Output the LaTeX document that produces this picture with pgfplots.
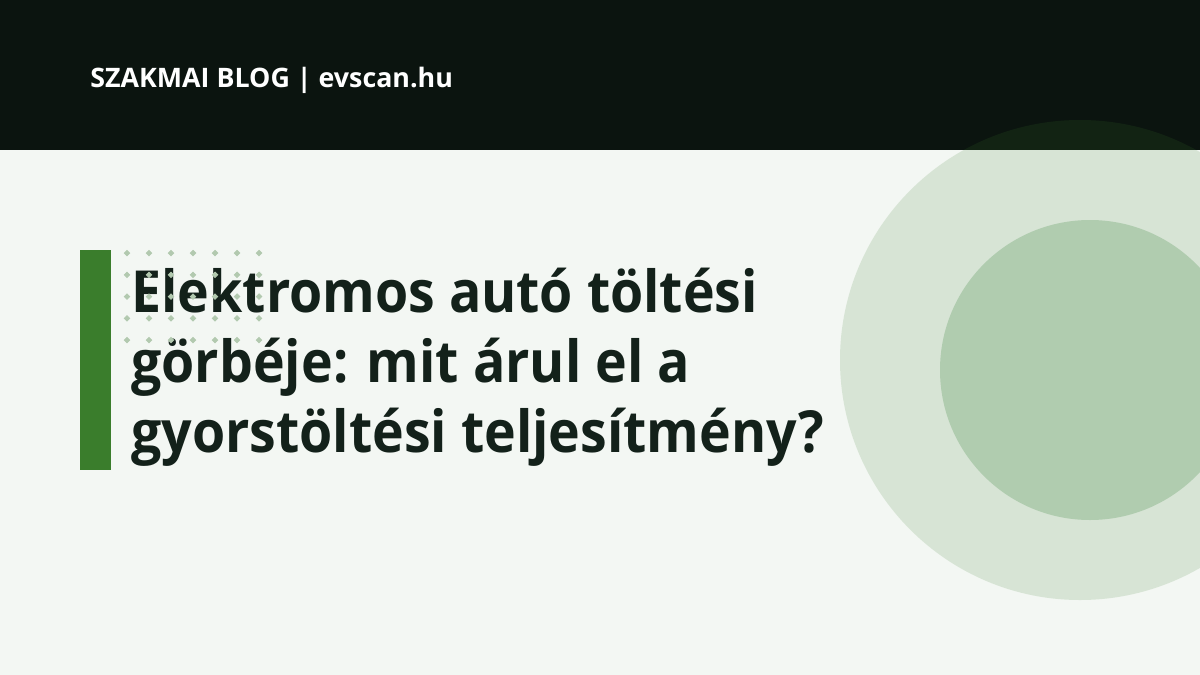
\documentclass[border=0pt]{standalone}
\usepackage{pgfplots}
\pgfplotsset{compat=1.18}
\usepackage{fontspec}
\setmainfont{Open Sans}
\newfontfamily\titlefont[FakeStretch=0.925]{Open Sans}
\definecolor{band}{HTML}{0B140F}
\definecolor{bg}{HTML}{F3F7F3}
\definecolor{grn}{HTML}{3A7D2C}
\definecolor{dotc}{HTML}{B2C9AF}
\definecolor{innerc}{HTML}{B0CCAF}
\definecolor{titlec}{HTML}{13211A}
\begin{document}
\begin{tikzpicture}
\begin{axis}[at={(0,0)}, anchor=south west, scale only axis, width=600pt, height=337.5pt,
  xmin=0, xmax=1200, ymin=0, ymax=675, y dir=reverse, axis lines=none, ticks=none, clip=true]
\fill[bg] (axis cs:0,0) rectangle (axis cs:1200,675);
\fill[band] (axis cs:0,0) rectangle (axis cs:1200,150);
\fill[grn, opacity=0.15] (axis cs:1080,360) circle[radius=120pt];
\fill[innerc] (axis cs:1090,370) circle[radius=75pt];
\fill[grn] (axis cs:80,250) rectangle (axis cs:111,470);
\addplot[only marks, color=dotc, mark=square*, mark size=0.95pt, mark options={draw=none, fill=dotc, rotate=45}] coordinates {
(127,253) (149,253) (171,253) (193,253) (215,253) (237,253) (259,253)
(127,274.75) (149,274.75) (171,274.75) (193,274.75) (215,274.75) (237,274.75) (259,274.75)
(127,296.5) (149,296.5) (171,296.5) (193,296.5) (215,296.5) (237,296.5) (259,296.5)
(127,318.25) (149,318.25) (171,318.25) (193,318.25) (215,318.25) (237,318.25) (259,318.25)
(127,340) (149,340) (171,340) (193,340) (215,340) (237,340) (259,340)
};
\node[anchor=base west, text=white, font=\fontsize{13.4}{15}\selectfont\bfseries, inner sep=0pt] at (axis cs:90,87) {SZAKMAI BLOG | evscan.hu};
\node[anchor=base west, text=titlec, font=\titlefont\fontsize{29}{35}\selectfont\bfseries, inner sep=0pt] at (axis cs:131,312) {Elektromos autó töltési};
\node[anchor=base west, text=titlec, font=\titlefont\fontsize{29}{35}\selectfont\bfseries, inner sep=0pt] at (axis cs:131,382) {görbéje: mit árul el a};
\node[anchor=base west, text=titlec, font=\titlefont\fontsize{29}{35}\selectfont\bfseries, inner sep=0pt] at (axis cs:131,452) {gyorstöltési teljesítmény?};
\end{axis}
\pgfresetboundingbox
\path (0,0) rectangle (600pt,337.5pt);
\end{tikzpicture}
\end{document}
